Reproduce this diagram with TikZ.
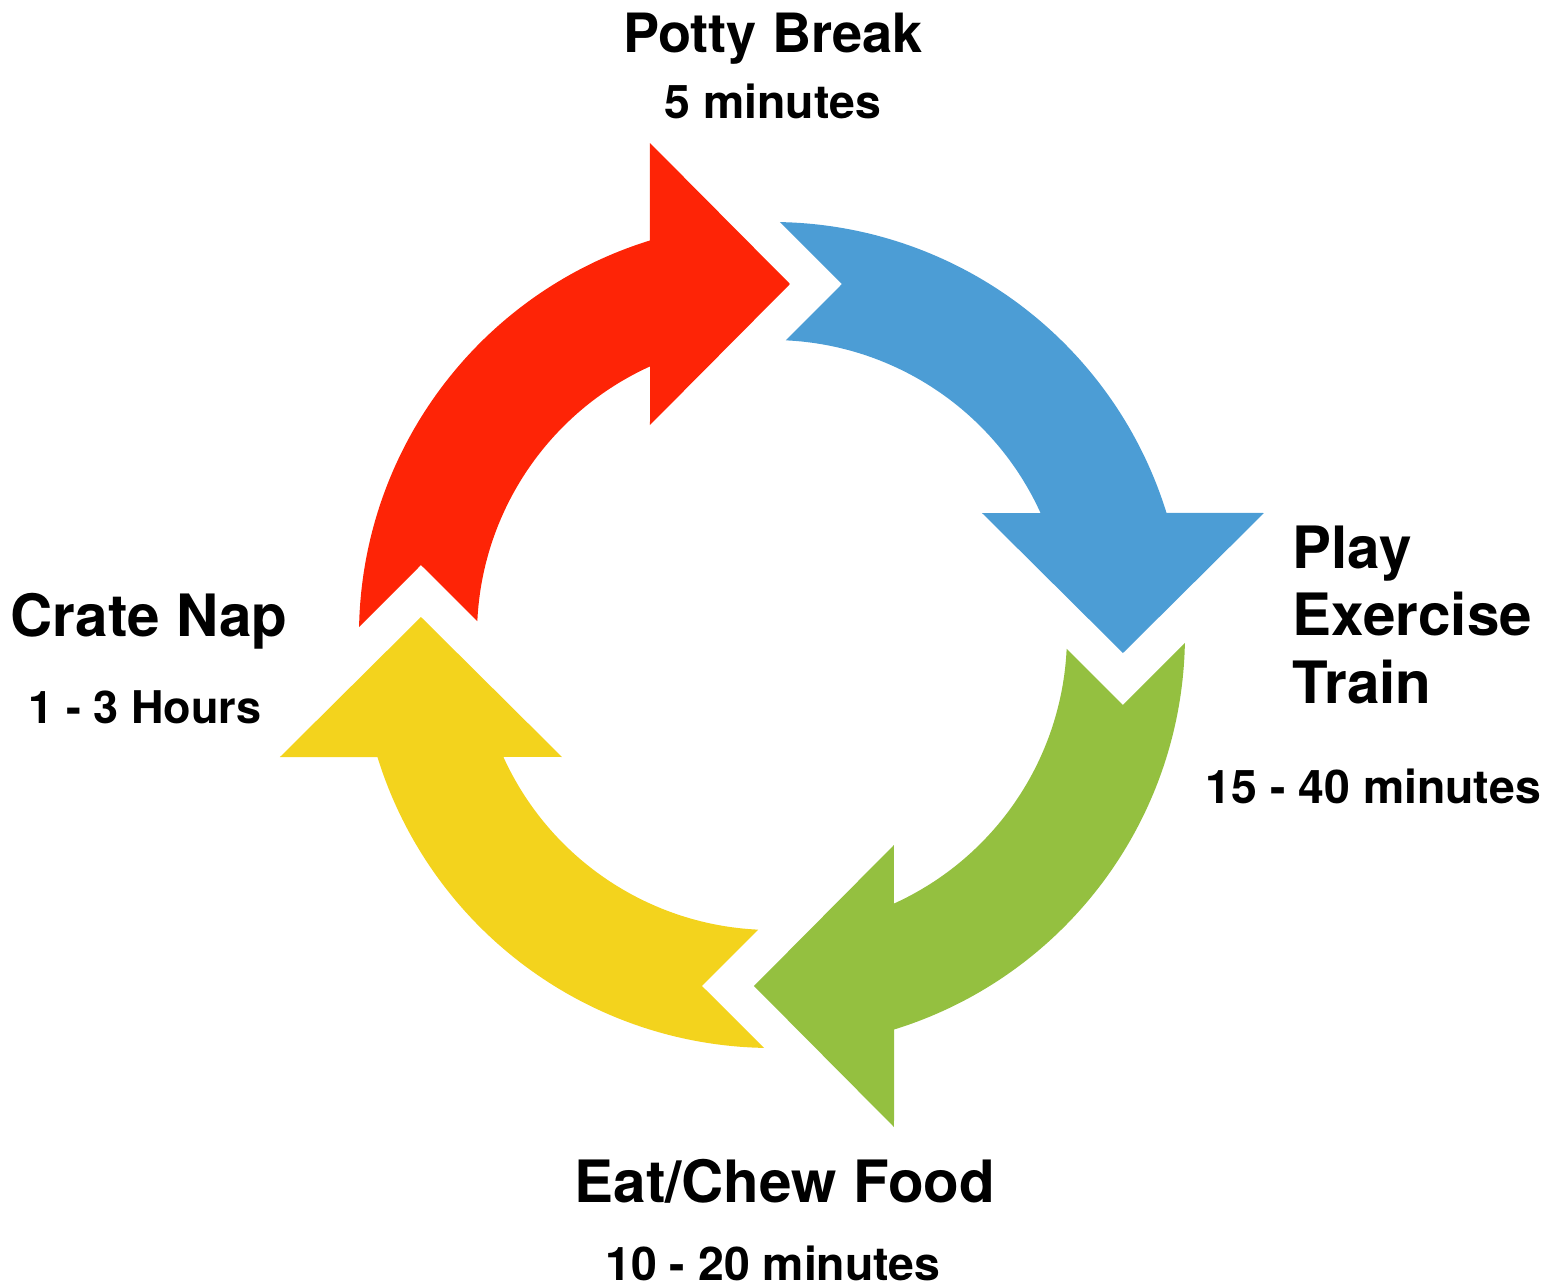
\documentclass[tikz,border=0pt]{standalone}
\usepackage{fontspec}
\setmainfont{TeX Gyre Heros}
\usepackage{tikz}
\definecolor{PottyRed}{HTML}{FE2406}
\definecolor{PlayBlue}{HTML}{4C9DD5}
\definecolor{FoodGreen}{HTML}{94C040}
\definecolor{NapYellow}{HTML}{F3D31D}
% one cycle arrow, head pointing right at the top of the ring
\newcommand{\cyclearrow}{(178.9:413) arc[start angle=178.9,end angle=107.2,radius=413]
  -- (-122,492) -- (18,351) -- (-122,210) -- (114.4:295)
  arc[start angle=114.4,end angle=177.3,radius=295] -- (-351,70) -- cycle}

\begin{document}
\begin{tikzpicture}[x=0.01cm,y=0.01cm]
  \tikzstyle{steplabel}=[inner sep=0pt,font=\bfseries\fontsize{16.6}{19.2}\selectfont]
  \tikzstyle{timelabel}=[inner sep=0pt,font=\bfseries\fontsize{13.2}{15}\selectfont]
  \useasboundingbox (-772,-652) rectangle (787,635);
  \fill[PottyRed] \cyclearrow;
  \fill[PlayBlue,rotate=-90] \cyclearrow;
  \fill[FoodGreen,rotate=180] \cyclearrow;
  \fill[NapYellow,rotate=90] \cyclearrow;
  \node[steplabel,anchor=base,font=\bfseries\fontsize{15.4}{18}\selectfont] (potty) at (1,582) {Potty Break};
  \node[timelabel,anchor=base] (pottytime) at (1,517) {5 minutes};
  \node[steplabel,anchor=north west,align=left] (play) at (520,110) {Play\\Exercise\\Train};
  \node[timelabel,anchor=base west] (playtime) at (433,-168) {15 - 40 minutes};
  \node[steplabel,anchor=base] (food) at (13,-567) {Eat/Chew Food};
  \node[timelabel,anchor=base] (foodtime) at (1,-645) {10 - 20 minutes};
  \node[steplabel,anchor=base west] (nap) at (-762,-1) {Crate Nap};
  \node[timelabel,anchor=base west,font=\bfseries\fontsize{12.8}{15}\selectfont] (naptime) at (-744,-88) {1 - 3 Hours};
\end{tikzpicture}
\end{document}
